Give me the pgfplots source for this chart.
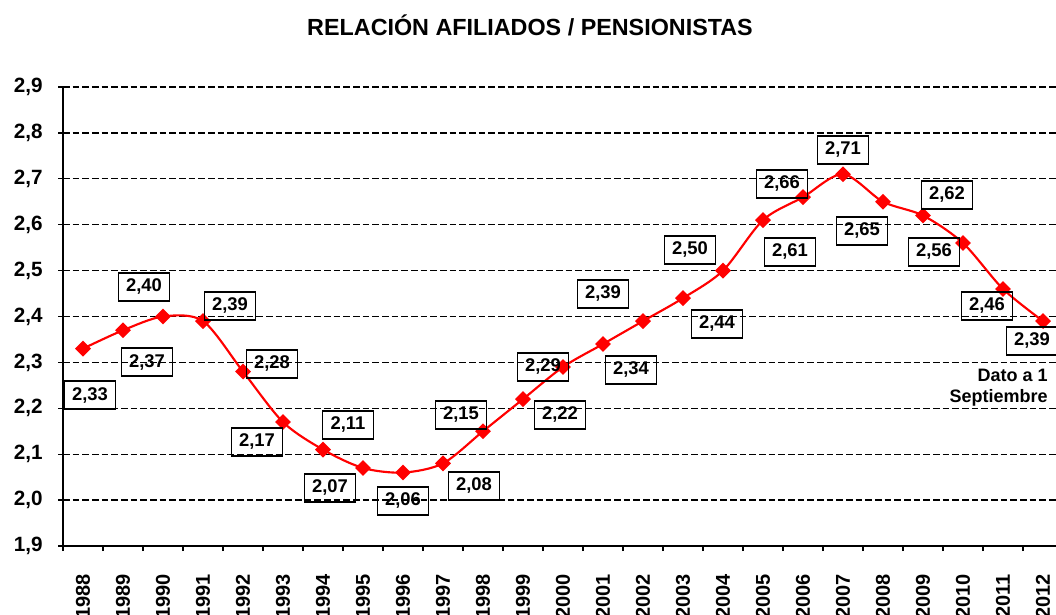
\documentclass[border=0pt]{standalone}
\usepackage{fontspec}
\setmainfont{Liberation Sans}
\usepackage{pgfplots}
\usepackage{pgfplotstable}
\pgfplotsset{compat=1.18}

\pgfplotstableread{
year val lab dx dy
1988 2.33 2,33 5.25 -34.8
1989 2.37 2,37 18 -24
1990 2.40 2,40 -14.25 22.2
1991 2.39 2,39 20.25 11.4
1992 2.28 2,28 21.75 5.8
1993 2.17 2,17 -19.5 -14.85
1994 2.11 2,11 18.75 18.5
1995 2.07 2,07 -24.75 -14.9
1996 2.06 2,06 0 -21.3
1997 2.08 2,08 23.25 -16.9
1998 2.15 2,15 -16.5 12.2
1999 2.22 2,22 27.75 -11.85
2000 2.29 2,29 -15 0
2001 2.34 2,34 21 -19.4
2002 2.39 2,39 -30 20.4
2003 2.44 2,44 25.5 -19.35
2004 2.50 2,50 -24.75 15.5
2005 2.61 2,61 20.25 -23.85
2006 2.66 2,66 -15.75 10
2007 2.71 2,71 0 18.2
2008 2.65 2,65 -15.75 -21.9
2009 2.62 2,62 18 15.45
2010 2.56 2,56 -21.75 -6.7
2011 2.46 2,46 -12 -12.75
2012 2.39 2,39 -8.25 -14.85
}\datatable

\begin{document}
\begin{tikzpicture}
\path[use as bounding box] (0,0) rectangle (792pt,460.5pt);
\begin{axis}[
  at={(47.25pt,51pt)}, anchor=south west,
  scale only axis,
  width=750pt, height=344.25pt,
  xmin=1987.5, xmax=2012.5,
  ymin=1.9, ymax=2.9,
  axis x line*=bottom, axis y line*=left,
  axis line style={line width=1.5pt, black},
  ytick={1.9,2.0,...,2.91},
  xtick={1988,...,2012},
  minor xtick={1987.5,1988.5,...,2012.6},
  tick align=outside,
  major tick length=3.75pt,
  minor tick length=3.75pt,
  xtick style={draw=none},
  minor x tick style={draw=black, line width=1pt},
  ytick style={line width=1pt, black},
  ymajorgrids,
  major grid style={black, line width=1pt, dash pattern=on 5pt off 2.25pt},
  yticklabel shift=8pt,
  xticklabel shift=14pt,
  yticklabel style={font=\fontsize{15.5}{18}\selectfont\bfseries,
    /pgf/number format/.cd, fixed, precision=1, zerofill, use comma, assume math mode=true},
  xticklabel style={font=\fontsize{15}{18}\selectfont\bfseries, rotate=90, anchor=east,
    /pgf/number format/.cd, 1000 sep={}, assume math mode=true},
  clip=false,
]
\addplot[red, line width=1.6pt, smooth, tension=0.5, mark=square*,
  mark size=3.4pt, mark options={solid, fill=red, draw=red, rotate=45},
  point meta=explicit symbolic,
  nodes near coords,
  visualization depends on={\thisrow{dx} \as \mydx},
  visualization depends on={\thisrow{dy} \as \mydy},
  every node near coord/.append style={anchor=center, xshift=\mydx pt, yshift=\mydy pt,
    draw=black, line width=1.3pt, text=black, minimum width=38.25pt, minimum height=21pt,
    inner sep=1pt, font=\fontsize{13.8}{16}\selectfont\bfseries, rotate=0},
] table[x=year, y=val, meta=lab] {\datatable};
\end{axis}
\node[font=\fontsize{17.5}{20}\selectfont\bfseries] at (397.5pt,441.75pt) {RELACIÓN AFILIADOS / PENSIONISTAS};
\node[font=\fontsize{13.5}{16}\selectfont\bfseries, align=right, anchor=east, inner sep=0pt] at (786pt,169.9pt) {Dato a 1\\Septiembre};
\end{tikzpicture}
\end{document}
